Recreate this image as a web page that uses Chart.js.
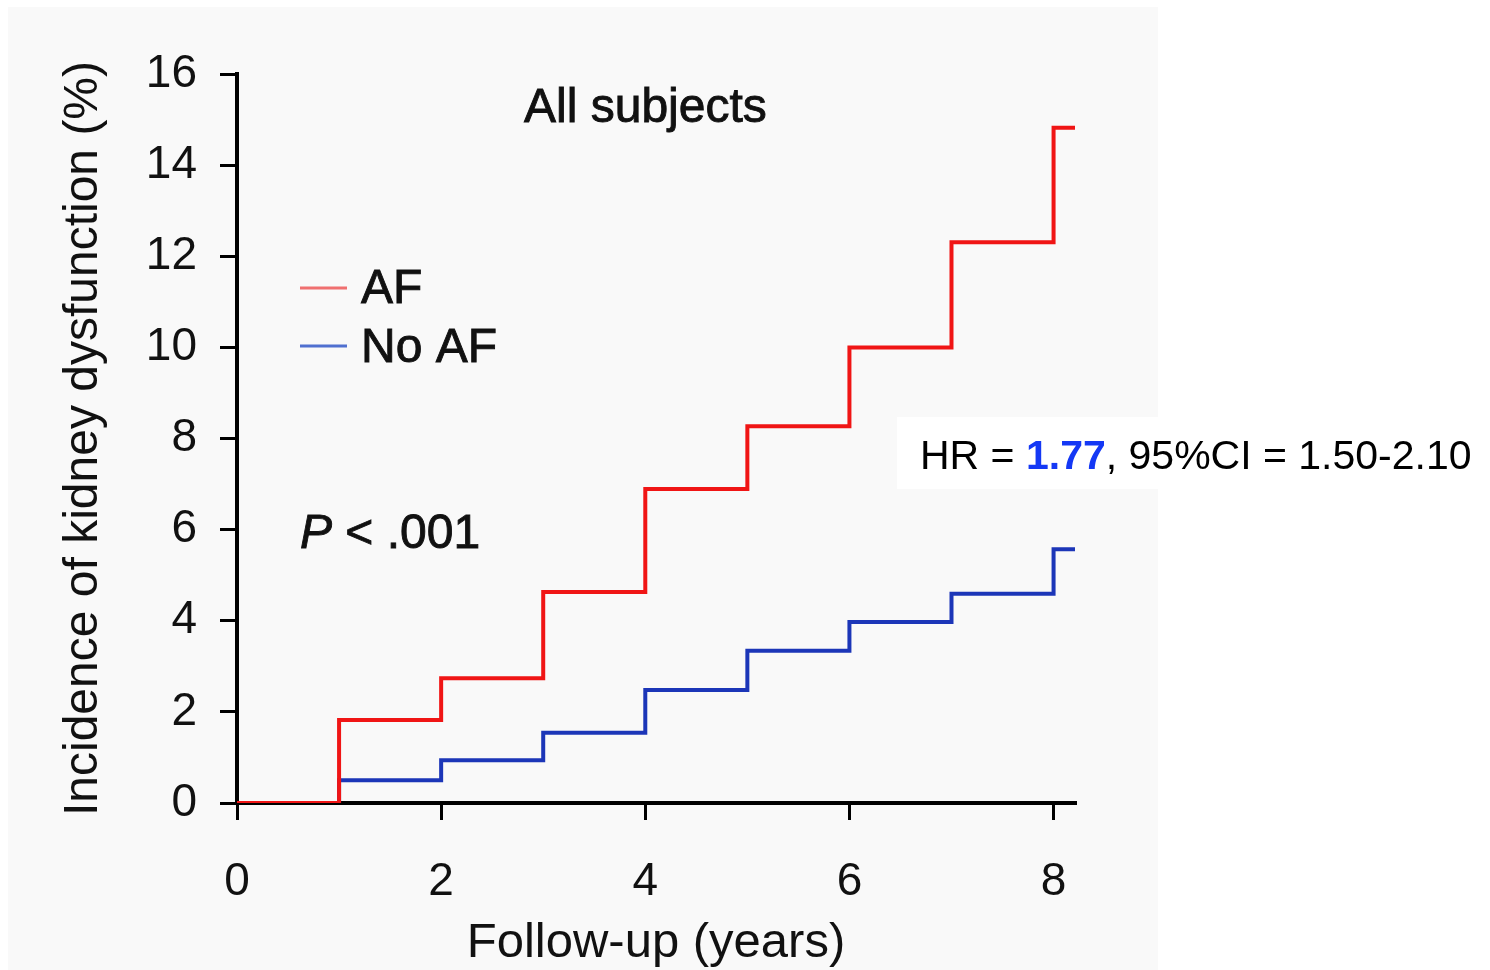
<!DOCTYPE html>
<html>
<head>
<meta charset="utf-8">
<script src="https://cdn.jsdelivr.net/npm/chart.js@4"></script>
<style>
  html, body { margin: 0; padding: 0; background: #ffffff; }
  #wrap { position: relative; width: 1490px; height: 970px; }
</style>
</head>
<body>
<div id="wrap"><canvas id="myChart" width="1490" height="970"></canvas></div>
<script>
// data
const followUp = [0, 1, 2, 3, 4, 5, 6, 7, 8, 8.21];
const afIncidence = [0, 1.82, 2.74, 4.63, 6.89, 8.27, 10.0, 12.31, 14.82, 14.82];
const noAfIncidence = [0, 0.5, 0.94, 1.54, 2.48, 3.34, 3.97, 4.59, 5.57, 5.57];
const xTicks = [0, 2, 4, 6, 8];
const seriesNames = ['AF', 'No AF'];

const FONT = '"Liberation Sans", Arial, Helvetica, sans-serif';

const toPoints = (ys) => followUp.map((x, i) => ({ x: x, y: ys[i] }));

// draws text a touch heavier, like the scanned original
function heavyText(ctx, text, x, y) {
  ctx.fillText(text, x, y);
  ctx.lineWidth = 0.9;
  ctx.strokeStyle = ctx.fillStyle;
  ctx.strokeText(text, x, y);
}

// panel background + text annotations
const annotations = {
  id: 'annotations',
  beforeDraw(chart) {
    const ctx = chart.ctx;
    ctx.save();
    ctx.fillStyle = '#f9f9f9';
    ctx.fillRect(8, 7, 1150, 963);
    ctx.restore();
  },
  afterDraw(chart) {
    const ctx = chart.ctx;
    ctx.save();
    ctx.fillStyle = '#111';
    ctx.textBaseline = 'alphabetic';

    ctx.font = '48px ' + FONT;
    heavyText(ctx, 'All subjects', 524, 122);

    // legend
    ctx.lineWidth = 3;
    ctx.strokeStyle = '#f07070';
    ctx.beginPath(); ctx.moveTo(300, 288); ctx.lineTo(347, 288); ctx.stroke();
    ctx.strokeStyle = '#5070d0';
    ctx.beginPath(); ctx.moveTo(300, 346); ctx.lineTo(347, 346); ctx.stroke();
    ctx.fillStyle = '#111';
    heavyText(ctx, seriesNames[0], 361, 303);
    heavyText(ctx, seriesNames[1], 361, 362);

    // p value
    ctx.font = 'italic 48px ' + FONT;
    heavyText(ctx, 'P', 300, 548);
    const pw = ctx.measureText('P').width;
    ctx.font = '48px ' + FONT;
    heavyText(ctx, ' < .001', 300 + pw, 548);

    // HR box
    ctx.fillStyle = '#ffffff';
    ctx.fillRect(897, 417, 262, 72);
    let x = 920;
    const y = 469;
    ctx.font = '41px ' + FONT;
    ctx.fillStyle = '#000';
    ctx.fillText('HR = ', x, y);
    x += ctx.measureText('HR = ').width;
    ctx.font = 'bold 41px ' + FONT;
    ctx.fillStyle = '#1438f5';
    ctx.fillText('1.77', x, y);
    x += ctx.measureText('1.77').width;
    ctx.font = '41px ' + FONT;
    ctx.fillStyle = '#000';
    ctx.fillText(', 95%CI = 1.50-2.10', x, y);
    ctx.restore();
  }
};

const data = {
  datasets: [
    {
      label: seriesNames[0],
      data: toPoints(afIncidence),
      borderColor: '#f01515',
      borderWidth: 4,
      stepped: true,
      pointRadius: 0,
      fill: false
    },
    {
      label: seriesNames[1],
      data: toPoints(noAfIncidence),
      borderColor: '#1c36b8',
      borderWidth: 4,
      stepped: true,
      pointRadius: 0,
      fill: false
    }
  ]
};

const config = {
  type: 'line',
  data,
  plugins: [annotations],
  options: {
    responsive: false,
    animation: false,
    layout: { padding: { top: 74, right: 415, left: 0, bottom: 0 } },
    plugins: {
      legend: { display: false },
      tooltip: { enabled: false }
    },
    scales: {
      x: {
        type: 'linear',
        min: 0,
        max: 8.21,
        afterBuildTicks: (scale) => { scale.ticks = xTicks.map(v => ({ value: v })); },
        afterFit: (scale) => { scale.height = 167; },
        border: { color: '#000', width: 4 },
        grid: { drawOnChartArea: false, drawTicks: true, tickLength: 17, color: '#000', lineWidth: 3 },
        ticks: { color: '#111', font: { family: FONT, size: 46 }, padding: 35, maxRotation: 0 },
        title: {
          display: true,
          text: 'Follow-up (years)',
          color: '#111',
          font: { family: FONT, size: 49 },
          padding: { top: 0, bottom: -3 }
        }
      },
      y: {
        min: 0,
        max: 16,
        ticks: { stepSize: 2, color: '#111', font: { family: FONT, size: 46 }, padding: 23 },
        afterFit: (scale) => { scale.width = 237; },
        border: { color: '#000', width: 4 },
        grid: { drawOnChartArea: false, drawTicks: true, tickLength: 17, color: '#000', lineWidth: 3 },
        title: {
          display: true,
          text: 'Incidence of kidney dysfunction (%)',
          color: '#111',
          font: { family: FONT, size: 48 },
          padding: { top: 55, bottom: 0 }
        }
      }
    }
  }
};

const myChart = new Chart(document.getElementById('myChart'), config);
</script>
</body>
</html>
